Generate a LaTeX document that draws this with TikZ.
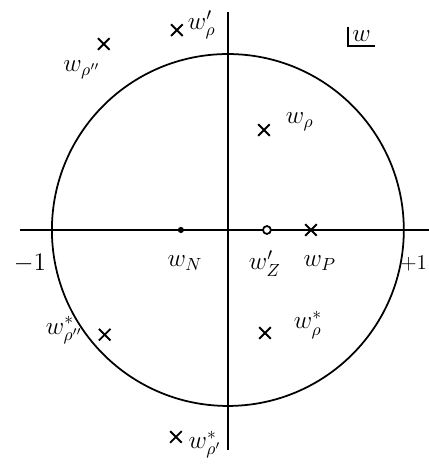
\documentclass[tikz,border=0pt]{standalone}
\usetikzlibrary{shapes.misc}
\tikzset{
  pole/.style={cross out, draw, line width=1.1pt, minimum size=5.5pt, inner sep=0pt},
  zero/.style={circle, draw, line width=1pt, minimum size=4.5pt, inner sep=0pt},
  polezero/.style={circle, fill, minimum size=3.5pt, inner sep=0pt},
  lab/.style={font=\Large, inner sep=1pt},
}
\begin{document}
\begin{tikzpicture}[scale=3.52, line width=1pt]
    \useasboundingbox (-1.295,-1.347) rectangle (1.142,1.307);

    % unit circle and axes
    \node[circle, draw, line width=1pt, minimum size=7.04cm, inner sep=0pt] (uc) at (0,0) {};
    \coordinate (xl) at (-1.18,0);
    \coordinate (xr) at (1.2,0);
    \coordinate (yb) at (0,-1.25);
    \coordinate (yt) at (0,1.239);
    \draw (xl) -- (xr);
    \draw (yb) -- (yt);

    \node[lab] (m1) at (-1.125,-0.19) {$-1$};
    \node[font=\large, anchor=east, inner sep=0.5pt] (p1) at (1.142,-0.19) {$+1$};

    % plane label
    \node[lab, inner sep=2pt] (wl) at (0.76,1.10) {$w$};
    \draw (wl.north west) -- (wl.south west) -- (wl.south east);

    % points on the real axis
    \node[polezero] (wn) at (-0.267,0) {};
    \node[zero, fill=white] (wz) at (0.222,0) {};
    \node[pole] (wp) at (0.472,0) {};
    \node[lab] (wnl) at (-0.244,-0.19) {$w_N$};
    \node[lab] (wzl) at (0.21,-0.19) {$w_Z'$};
    \node[lab] (wpl) at (0.523,-0.19) {$w_P$};

    % poles
    \node[pole] (r1) at (0.205,0.568) {};
    \node[pole] (r2) at (-0.29,1.136) {};
    \node[pole] (r3) at (-0.705,1.057) {};
    \node[pole] (r1s) at (0.211,-0.585) {};
    \node[pole] (r2s) at (-0.295,-1.176) {};
    \node[pole] (r3s) at (-0.70,-0.595) {};

    \node[lab] (r1l) at (0.409,0.614) {$w_\rho$};
    \node[lab] (r2l) at (-0.148,1.165) {$w_\rho'$};
    \node[lab] (r3l) at (-0.83,0.91) {$w_{\rho''}$};
    \node[lab] (r1sl) at (0.455,-0.54) {$w_\rho^*$};
    \node[lab] (r2sl) at (-0.13,-1.22) {$w_{\rho'}^*$};
    \node[lab] (r3sl) at (-0.93,-0.57) {$w_{\rho''}^*$};
\end{tikzpicture}
\end{document}
